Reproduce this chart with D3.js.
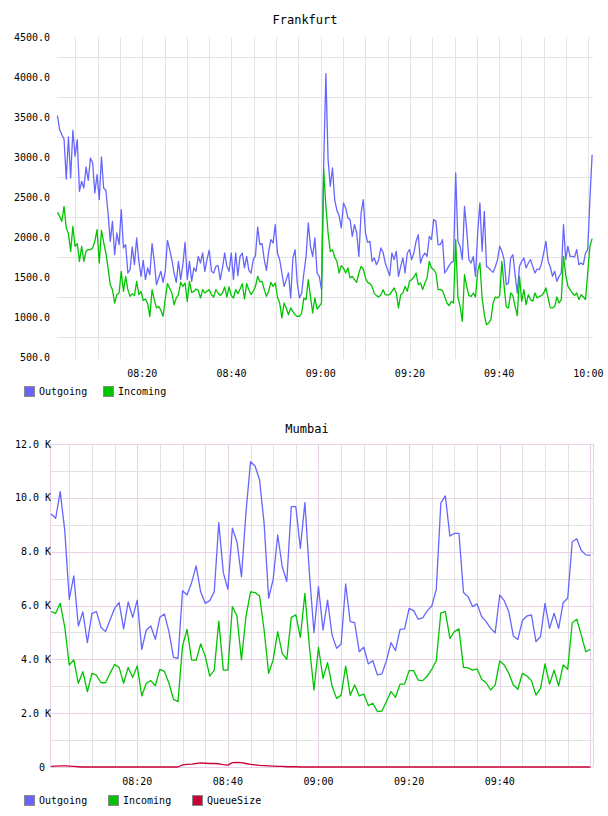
<!DOCTYPE html>
<html lang="en">
<head>
<meta charset="UTF-8">
<title>Frankfurt / Mumbai traffic</title>
<style>
  body { margin: 0; background: #fff; }
  svg text { font-family: "DejaVu Sans Mono", monospace; font-size: 10px; fill: #000; }
  svg .title { font-size: 12px; }
</style>
</head>
<body>
<script src="https://cdn.jsdelivr.net/npm/d3@7/dist/d3.min.js"></script>
<script>
// ---------- Frankfurt: ~30 s samples, 08:01 -> 10:00:50 ----------
var fraOut = [
  3517,3342,3279,3225,2725,3250,2738,3334,3009,3217,
  2571,2696,2613,2875,2709,2988,2925,2550,2779,2467,
  3000,2613,2584,2300,1946,2196,1779,2050,1904,2342,
  1863,1904,1550,1592,1875,1654,1988,1696,1508,1708,
  1467,1613,1529,1917,1696,1404,1488,1571,1433,1571,
  1958,1842,1717,1550,1433,1696,1467,1654,1933,1467,
  1696,1446,1613,1571,1758,1675,1800,1571,1725,1834,
  1571,1550,1633,1642,1467,1613,1800,1633,1571,1800,
  1467,1800,1517,
  1758,1800,1613,1758,1583,1550,1717,1767,2125,1904,
  1917,1717,1583,1821,1967,1925,2154,1800,1717,1550,
  1383,1467,1550,1238,1738,1842,1425,1238,1300,1550,
  1758,2175,1884,1758,1988,1550,1508,1342,2900,4042,
  2967,2634,2863,2467,2333,2267,2113,2425,2363,2238,
  2217,2008,2154,2050,1758,2300,2467,2050,1933,1946,
  1696,1738,1654,1717,1863,1808,1675,1592,1517,1800,
  1717,1821,1508,1633,1738,1550,1800,1842,1717,
  1800,1946,2029,1675,1758,1800,1758,2008,1967,2217,
  2196,1904,1904,1967,1550,1592,1642,1683,1696,2800,
  1946,1884,1717,2383,2092,1717,1675,1758,1508,2050,
  2425,1821,2321,1633,1613,1583,1558,1625,1717,1884,
  1821,1717,1404,1425,1738,1779,1529,1300,1633,1696,
  1738,1613,1675,1717,1633,1550,1600,1592,1667,1800,
  1946,1696,1625,1508,1571,1446,1508,1550,2154,1717,
  1884,1758,1758,1750,1842,1654,1675,1654,1800,1842,
  2467,3029
];
var fraIn = [
  2308,2258,2196,2383,2113,2042,1821,2134,1884,1917,
  1696,1884,1696,1821,1842,1842,1863,1946,2092,1675,
  2083,1933,1800,1613,1404,1342,1175,1279,1300,1571,
  1321,1508,1342,1258,1292,1267,1446,1279,1321,1208,
  1225,1167,1008,1342,1217,1113,1134,1084,1008,1225,
  1417,1358,1300,1154,1238,1279,1433,1383,1425,1196,
  1446,1308,1321,1350,1333,1238,1342,1300,1321,1342,
  1279,1250,1342,1300,1267,1300,1375,1250,1375,1267,
  1238,1342,1292,
  1350,1417,1225,1417,1342,1279,1321,1383,1508,1442,
  1446,1342,1258,1321,1433,1383,1425,1250,1175,988,
  1175,1113,1029,1113,1071,1029,1008,1008,1050,1238,
  1217,1467,1258,1050,1238,1100,1134,1175,2842,2383,
  2050,1817,1842,1750,1696,1550,1642,1613,1550,1613,
  1488,1508,1467,1433,1550,1633,1600,1488,1433,1417,
  1383,1292,1267,1250,1279,1342,1279,1275,1279,1321,
  1363,1300,1113,1279,1300,1383,1321,1446,1467,
  1500,1550,1404,1425,1342,1425,1488,1696,1613,1592,
  1550,1342,1342,1329,1258,1175,1142,1196,1175,1967,
  1250,1134,946,1529,1383,1267,1258,1300,1250,1571,
  1675,1238,1029,904,925,967,1175,1250,1238,1267,
  1696,1383,1125,1113,1300,1267,1134,1017,1508,1196,
  1342,1154,1279,1217,1196,1300,1238,1258,1267,1300,
  1363,1238,1113,1113,1134,1250,1175,1217,1758,1529,
  1383,1342,1300,1267,1300,1217,1279,1250,1217,1550,
  1884,1979
];
var fraFirst = "08:01:00", fraLast = "10:00:50";
var fraYTicks = [500, 1000, 1500, 2000, 2500, 3000, 3500, 4000, 4500];
var fraGridY = [750, 1250, 1750, 2250, 2750, 3250, 3750, 4250];
var fraTimeLabels = ["08:20", "08:40", "09:00", "09:20", "09:40", "10:00"];

// ---------- Mumbai: 1 min samples, 08:01 -> 10:00, values in K ----------
var mumOut = [
  9.40,9.24,10.23,8.80,6.23,7.10,5.24,5.76,4.62,5.71,
  5.77,5.19,5.03,5.46,5.89,6.11,5.13,6.13,5.56,6.20,
  4.37,5.09,5.24,4.74,5.56,5.68,5.03,4.07,4.04,6.55,
  6.39,6.85,7.47,6.51,6.08,6.18,6.51,9.08,7.22,6.60,
  8.87,8.37,7.07,9.45,11.34,11.18,10.66,9.05,6.27,6.97,
  8.62,7.44,6.89,9.67,9.67,8.12,9.82,7.20,4.99,6.70,
  5.09,6.20,4.90,4.41,4.57,6.80,5.40,5.36,4.28,4.45,
  3.83,3.95,3.42,3.46,3.95,4.62,4.32,5.11,5.13,5.89,
  5.81,5.49,5.54,5.80,5.98,6.60,9.80,10.07,8.58,8.68,
  8.68,6.48,6.33,5.96,6.06,5.59,5.40,5.15,4.99,6.39,
  6.18,5.77,4.87,4.74,5.44,5.61,5.65,4.66,4.84,6.08,
  5.15,5.71,5.15,6.11,6.27,8.37,8.48,8.04,7.88,7.86
];
var mumIn = [
  5.77,5.71,6.08,5.21,3.79,3.98,3.11,3.54,2.80,3.48,
  3.41,3.13,3.13,3.48,3.81,3.70,3.11,3.70,3.33,3.75,
  2.64,3.11,3.21,3.02,3.63,3.55,3.11,2.51,2.43,4.50,
  5.11,3.98,3.96,4.57,4.12,3.38,3.60,5.42,3.60,3.60,
  5.96,5.61,3.98,5.59,6.51,6.48,6.35,5.09,3.48,3.98,
  5.03,4.22,4.00,5.56,5.65,4.82,6.45,4.47,2.86,4.45,
  3.29,3.88,3.01,2.55,2.67,3.75,2.67,3.05,2.64,2.71,
  2.28,2.37,2.06,2.08,2.43,2.80,2.59,3.08,3.08,3.58,
  3.58,3.23,3.21,3.38,3.63,3.95,5.73,5.77,4.78,5.03,
  5.13,3.70,3.68,3.60,3.65,3.26,3.13,2.86,3.05,3.94,
  3.79,3.48,3.05,2.89,3.48,3.38,3.21,2.67,2.92,3.83,
  3.08,3.60,3.01,3.79,3.63,5.36,5.49,4.90,4.28,4.37
];
var mumQueue = [
  0.02,0.03,0.04,0.04,0.03,0.02,0.01,0,0,0,
  0,0,0,0,0,0,0,0,0,0,
  0,0,0,0,0,0,0,0,0,0.08,
  0.10,0.11,0.13,0.15,0.14,0.13,0.13,0.12,0.09,0.07,
  0.16,0.17,0.16,0.13,0.10,0.08,0.06,0.05,0.04,0.03,
  0.02,0.02,0.01,0.01,0.01,0,0,0,0,0,
  0,0,0,0,0,0,0,0,0,0,
  0,0,0,0,0,0,0,0,0,0,
  0,0,0,0,0,0,0,0,0,0,
  0,0,0,0,0,0,0,0,0,0,
  0,0,0,0,0,0,0,0,0,0,
  0,0,0,0,0,0,0,0,0,0
];
var mumFirst = "08:01:00", mumLast = "10:00:00";
var mumYTicks = [0, 2, 4, 6, 8, 10, 12];
var mumGridMinor = [1, 3, 5, 7, 9, 11];
var mumTimeLabels = ["08:20", "08:40", "09:00", "09:20", "09:40"];

var seriesNames = ["Outgoing", "Incoming", "QueueSize"];
var colors = { Outgoing: "#6666ff", Incoming: "#00c400", QueueSize: "#cc0033" };

var parseTime = d3.timeParse("%H:%M:%S");
var parseHM = d3.timeParse("%H:%M");

function timesFor(values, first, last) {
  var t0 = +parseTime(first), t1 = +parseTime(last);
  return values.map(function(d, i) { return new Date(t0 + i * (t1 - t0) / (values.length - 1)); });
}

var svg = d3.select("body").append("svg")
  .attr("width", 608)
  .attr("height", 816);

function legend(g, names, y, step) {
  var item = g.selectAll("g.leg").data(names).enter().append("g")
    .attr("class", "leg")
    .attr("transform", function(d, i) { return "translate(" + (24 + i * step) + "," + y + ")"; });
  item.append("rect")
    .attr("x", 0.5).attr("y", 0.5)
    .attr("width", 10).attr("height", 10)
    .attr("fill", function(d) { return colors[d]; })
    .attr("stroke", "#8a8a8a");
  item.append("text")
    .attr("x", 15).attr("y", 9)
    .text(function(d) { return d; });
}

// ================= Frankfurt =================
(function() {
  var g = svg.append("g");
  var left = 57, right = 593, top = 37, bottom = 359;
  var x = d3.scaleTime()
    .domain([parseTime("08:00:54"), parseTime("10:01:02")])
    .range([left, right]);
  var y = d3.scaleLinear().domain([500, 4500]).range([357, 37]);
  var times = timesFor(fraOut, fraFirst, fraLast);

  g.append("text").attr("class", "title")
    .attr("x", 305).attr("y", 24).attr("text-anchor", "middle")
    .text("Frankfurt");

  g.selectAll("line.vg").data(x.ticks(d3.timeMinute.every(5))).enter().append("line")
    .attr("class", "vg")
    .attr("x1", function(d) { return Math.round(x(d)) + 0.5; })
    .attr("x2", function(d) { return Math.round(x(d)) + 0.5; })
    .attr("y1", top).attr("y2", bottom)
    .attr("stroke", "#e4e4e4");
  g.selectAll("line.hg").data(fraGridY).enter().append("line")
    .attr("class", "hg")
    .attr("x1", left).attr("x2", right)
    .attr("y1", function(d) { return Math.round(y(d)) + 0.5; })
    .attr("y2", function(d) { return Math.round(y(d)) + 0.5; })
    .attr("stroke", "#e4e4e4");

  g.selectAll("text.yl").data(fraYTicks).enter().append("text")
    .attr("class", "yl")
    .attr("x", 50).attr("y", function(d) { return y(d); })
    .attr("dy", "0.35em").attr("text-anchor", "end")
    .text(function(d) { return d3.format(".1f")(d); });

  g.selectAll("text.xl").data(fraTimeLabels).enter().append("text")
    .attr("class", "xl")
    .attr("x", function(d) { return x(parseHM(d)); })
    .attr("y", 377).attr("text-anchor", "middle")
    .text(function(d) { return d; });

  var line = d3.line()
    .x(function(d, i) { return x(times[i]); })
    .y(function(d) { return y(d); });
  [["Outgoing", fraOut], ["Incoming", fraIn]].forEach(function(s) {
    g.append("path").datum(s[1])
      .attr("d", line)
      .attr("fill", "none")
      .attr("stroke", colors[s[0]])
      .attr("stroke-width", 1.3)
      .attr("stroke-linejoin", "round");
  });

  legend(g.append("g"), seriesNames.slice(0, 2), 386, 79);
})();

// ================= Mumbai =================
(function() {
  var g = svg.append("g");
  var left = 50, right = 593, top = 444, bottom = 767;
  var x = d3.scaleTime()
    .domain([parseTime("08:00:45"), parseTime("10:00:35")])
    .range([left, right]);
  var y = d3.scaleLinear().domain([0, 12]).range([bottom, top]);
  var times = timesFor(mumOut, mumFirst, mumLast);
  var pink = "#e8d2e8", grey = "#e2e2e2";

  g.append("text").attr("class", "title")
    .attr("x", 307).attr("y", 433).attr("text-anchor", "middle")
    .text("Mumbai");

  var vt = x.ticks(d3.timeMinute.every(5));
  g.selectAll("line.vg").data(vt).enter().append("line")
    .attr("class", "vg")
    .attr("x1", function(d) { return Math.round(x(d)) + 0.5; })
    .attr("x2", function(d) { return Math.round(x(d)) + 0.5; })
    .attr("y1", top).attr("y2", bottom)
    .attr("stroke", function(d) { return d.getMinutes() % 20 === 0 ? pink : grey; });
  g.selectAll("line.hm").data(mumGridMinor).enter().append("line")
    .attr("class", "hm")
    .attr("x1", left).attr("x2", right)
    .attr("y1", function(d) { return Math.round(y(d)) + 0.5; })
    .attr("y2", function(d) { return Math.round(y(d)) + 0.5; })
    .attr("stroke", grey);
  g.selectAll("line.hj").data(mumYTicks).enter().append("line")
    .attr("class", "hj")
    .attr("x1", left).attr("x2", right)
    .attr("y1", function(d) { return Math.round(y(d)) + 0.5; })
    .attr("y2", function(d) { return Math.round(y(d)) + 0.5; })
    .attr("stroke", pink);
  // frame sides
  [left, right].forEach(function(px) {
    g.append("line")
      .attr("x1", px + 0.5).attr("x2", px + 0.5)
      .attr("y1", top).attr("y2", bottom)
      .attr("stroke", pink);
  });

  g.selectAll("text.yl").data(mumYTicks).enter().append("text")
    .attr("class", "yl")
    .attr("x", 51).attr("y", function(d) { return y(d); })
    .attr("dy", "0.35em").attr("text-anchor", "end")
    .text(function(d) { return d === 0 ? "0\u00a0" : d3.format(".1f")(d) + " K"; });

  g.selectAll("text.xl").data(mumTimeLabels).enter().append("text")
    .attr("class", "xl")
    .attr("x", function(d) { return x(parseHM(d)); })
    .attr("y", 785).attr("text-anchor", "middle")
    .text(function(d) { return d; });

  var line = d3.line()
    .x(function(d, i) { return x(times[i]); })
    .y(function(d) { return y(d); });
  [["Outgoing", mumOut], ["Incoming", mumIn], ["QueueSize", mumQueue]].forEach(function(s) {
    g.append("path").datum(s[1])
      .attr("d", line)
      .attr("fill", "none")
      .attr("stroke", colors[s[0]])
      .attr("stroke-width", 1.3)
      .attr("stroke-linejoin", "round");
  });

  legend(g.append("g"), seriesNames, 795, 84);
})();
</script>
</body>
</html>
